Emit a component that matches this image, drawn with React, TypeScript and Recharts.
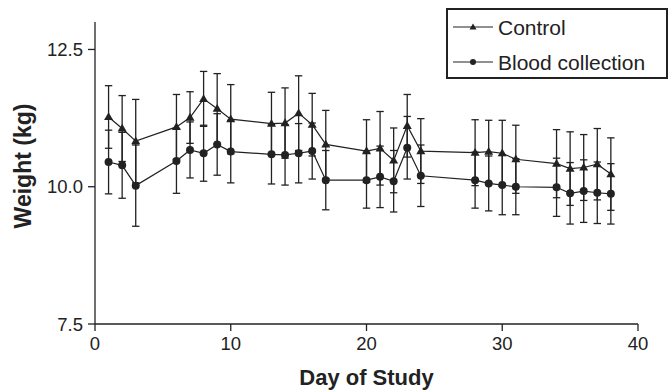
import React from 'react';
import { LineChart, Line, XAxis, YAxis, ErrorBar, Legend } from 'recharts';

const days = [1, 2, 3, 6, 7, 8, 9, 10, 13, 14, 15, 16, 17, 20, 21, 22, 23, 24, 28, 29, 30, 31, 34, 35, 36, 37, 38];
const controlMean = [11.27, 11.06, 10.83, 11.09, 11.26, 11.6, 11.42, 11.23, 11.15, 11.16, 11.34, 11.13, 10.77, 10.65, 10.7, 10.48, 11.11, 10.65, 10.62, 10.64, 10.61, 10.5, 10.42, 10.33, 10.35, 10.41, 10.23];
const controlSD = [0.57, 0.6, 0.76, 0.59, 0.47, 0.5, 0.64, 0.63, 0.57, 0.64, 0.68, 0.57, 0.62, 0.57, 0.67, 0.59, 0.57, 0.59, 0.6, 0.57, 0.6, 0.62, 0.62, 0.67, 0.6, 0.65, 0.66];
const bloodMean = [10.45, 10.39, 10.02, 10.47, 10.67, 10.61, 10.77, 10.64, 10.59, 10.58, 10.61, 10.65, 10.12, 10.12, 10.18, 10.1, 10.71, 10.2, 10.12, 10.06, 10.03, 10.0, 9.99, 9.88, 9.92, 9.89, 9.87];
const bloodSD = [0.58, 0.6, 0.74, 0.59, 0.51, 0.51, 0.56, 0.57, 0.54, 0.55, 0.54, 0.51, 0.54, 0.51, 0.56, 0.56, 0.57, 0.56, 0.51, 0.5, 0.54, 0.51, 0.53, 0.56, 0.57, 0.56, 0.55];

const xTicks = [0, 10, 20, 30, 40];
const yTicks = [7.5, 10, 12.5];
const seriesNames = ['Control', 'Blood collection'];

const data = days.map((d, i) => ({
  day: d,
  control: controlMean[i],
  controlErr: controlSD[i],
  blood: bloodMean[i],
  bloodErr: bloodSD[i],
}));

const INK = '#222';
const FONT = '"Liberation Sans", Arial, Helvetica, sans-serif';

const TriangleDot = (props: any) => {
  const { cx, cy } = props;
  if (cx == null || cy == null) return null;
  return <path d={`M${cx},${cy - 4.7} L${cx + 4.5},${cy + 3.1} L${cx - 4.5},${cy + 3.1} Z`} fill={INK} stroke="none" />;
};

const CircleDot = (props: any) => {
  const { cx, cy } = props;
  if (cx == null || cy == null) return null;
  return <circle cx={cx} cy={cy} r={4} fill={INK} stroke="none" />;
};

const LegendBox = () => (
  <svg width={222} height={71} style={{ display: 'block' }}>
    <rect x={1} y={1} width={220} height={69} fill="#fff" stroke={INK} strokeWidth={2} />
    <line x1={7} y1={19} x2={47} y2={19} stroke={INK} strokeWidth={1.2} />
    <path d="M27,15.5 L30.5,21.5 L23.5,21.5 Z" fill={INK} />
    <text x={52} y={26.5} fontFamily={FONT} fontSize={21} fill={INK}>{seriesNames[0]}</text>
    <line x1={7} y1={54} x2={47} y2={54} stroke={INK} strokeWidth={1.2} />
    <circle cx={27} cy={54} r={3} fill={INK} />
    <text x={52} y={61.5} fontFamily={FONT} fontSize={21} fill={INK}>{seriesNames[1]}</text>
  </svg>
);

export default function App() {
  return (
    <div style={{ position: 'absolute', left: 0, top: 0, width: 672, height: 392, background: '#fff' }}>
      <LineChart width={672} height={392} data={data} margin={{ top: 22, right: 34, bottom: 0, left: 0 }}>
        <XAxis
          dataKey="day"
          type="number"
          domain={[0, 40]}
          ticks={xTicks}
          stroke={INK}
          strokeWidth={1.3}
          tickSize={7}
          tickMargin={6}
          tick={{ fill: INK, fontSize: 18.5, fontFamily: FONT }}
          tickLine={{ stroke: INK, strokeWidth: 1.3 }}
          height={68}
          label={{
            content: () => (
              <text x={366.5} y={385} textAnchor="middle" fontFamily={FONT} fontWeight="bold" fontSize={22} fill={INK}>
                Day of Study
              </text>
            ),
          }}
        />
        <YAxis
          type="number"
          domain={[7.5, 13]}
          ticks={yTicks}
          tickFormatter={(v: number) => v.toFixed(1)}
          stroke={INK}
          strokeWidth={1.3}
          tickSize={7}
          tickMargin={5}
          width={95}
          tick={{ fill: INK, fontSize: 18.5, fontFamily: FONT }}
          tickLine={{ stroke: INK, strokeWidth: 1.3 }}
          allowDataOverflow
          label={{
            content: () => (
              <text
                x={0}
                y={0}
                transform="translate(31,166) rotate(-90)"
                textAnchor="middle"
                fontFamily={FONT}
                fontWeight="bold"
                fontSize={23}
                fill={INK}
              >
                Weight (kg)
              </text>
            ),
          }}
        />
        <Legend
          layout="vertical"
          align="center"
          verticalAlign="middle"
          wrapperStyle={{ left: 446, top: 8, width: 222, height: 71, right: 'auto', bottom: 'auto' }}
          content={() => <LegendBox />}
        />
        <Line
          type="linear"
          dataKey="control"
          name={seriesNames[0]}
          stroke={INK}
          strokeWidth={1.2}
          dot={<TriangleDot />}
          activeDot={false}
          isAnimationActive={false}
        >
          <ErrorBar dataKey="controlErr" direction="y" width={3.7} stroke={INK} strokeWidth={1.3} />
        </Line>
        <Line
          type="linear"
          dataKey="blood"
          name={seriesNames[1]}
          stroke={INK}
          strokeWidth={1.2}
          dot={<CircleDot />}
          activeDot={false}
          isAnimationActive={false}
        >
          <ErrorBar dataKey="bloodErr" direction="y" width={3.7} stroke={INK} strokeWidth={1.3} />
        </Line>
      </LineChart>
    </div>
  );
}
